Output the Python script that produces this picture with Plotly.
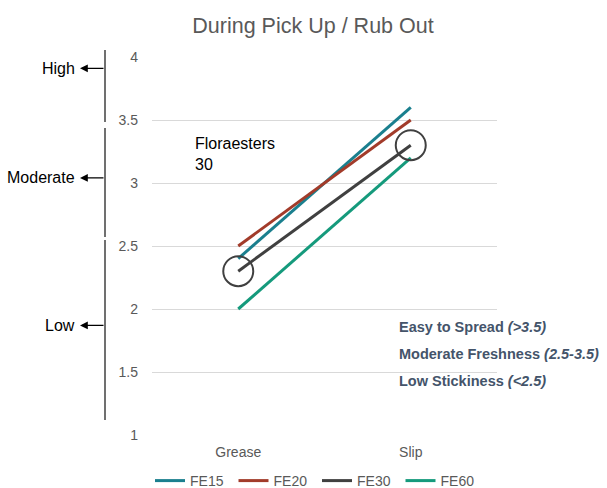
import plotly.graph_objects as go

# ---- data ----
categories = ["Grease", "Slip"]
fe15 = [2.4, 3.6]
fe20 = [2.5, 3.5]
fe30 = [2.3, 3.3]
fe60 = [2.0, 3.2]
series_names = ["FE15", "FE20", "FE30", "FE60"]
series_values = [fe15, fe20, fe30, fe60]
series_colors = ["#1A7F8E", "#A23B2A", "#404040", "#159A7C"]
y_ticks = [1, 1.5, 2, 2.5, 3, 3.5, 4]
y_tick_text = ["1", "1.5", "2", "2.5", "3", "3.5", "4"]
level_labels = ["High", "Moderate", "Low"]
level_values = [3.91, 3.04, 1.87]

W, H = 607, 488
L, R, T, B = 152, 110, 57, 53
pw, ph = W - L - R, H - T - B


def px_x(x):
    return (x - L) / pw


def px_y(y):
    return (H - B - y) / ph


fig = go.Figure()
for name, vals, col in zip(series_names, series_values, series_colors):
    fig.add_trace(go.Scatter(x=categories, y=vals, mode="lines", name=name,
                             line=dict(color=col, width=3)))

# highlight circles on FE30
fig.add_trace(go.Scatter(x=categories, y=fe30, mode="markers", showlegend=False,
                         hoverinfo="skip",
                         marker=dict(symbol="circle-open", size=30,
                                     line=dict(color="#404040", width=2),
                                     color="#404040")))

shapes = []
# left bracket lines
for y0, y1 in [(50, 122), (128, 237), (240, 420)]:
    shapes.append(dict(type="line", xref="paper", yref="paper",
                       x0=px_x(105), x1=px_x(105), y0=px_y(y0), y1=px_y(y1),
                       line=dict(color="#404040", width=1.5)))

annotations = []
for lab, v in zip(level_labels, level_values):
    annotations.append(dict(xref="paper", yref="y", x=px_x(80), y=v, ax=25, ay=0,
                            text="", showarrow=True, arrowhead=2, arrowsize=1.2,
                            arrowwidth=1.3, arrowcolor="#000000"))
    annotations.append(dict(xref="paper", yref="y", x=px_x(77), y=v, text=lab,
                            showarrow=False, xanchor="right", yanchor="middle",
                            font=dict(size=16, color="#000000",
                                      family="Liberation Sans, Arial")))

annotations.append(dict(xref="paper", yref="paper", x=px_x(193), y=px_y(133),
                        text="Floraesters<br>30", showarrow=False, align="left",
                        xanchor="left", yanchor="top",
                        font=dict(size=16, color="#000000",
                                  family="Liberation Sans, Arial")))

right_lines = [("Easy to Spread", "(>3.5)", 327),
               ("Moderate Freshness", "(2.5-3.5)", 354),
               ("Low Stickiness", "(<2.5)", 381)]
for bold, ital, yy in right_lines:
    annotations.append(dict(xref="paper", yref="paper", x=px_x(397), y=px_y(yy),
                            text=f"<b>{bold} <i>{ital}</i></b>", showarrow=False,
                            xanchor="left", yanchor="middle",
                            font=dict(size=14.5, color="#44546A",
                                      family="Liberation Sans, Arial")))

fig.update_layout(
    width=W, height=H,
    margin=dict(l=L, r=R, t=T, b=B, autoexpand=False),
    paper_bgcolor="white", plot_bgcolor="white",
    font=dict(family="Liberation Sans, Arial", color="#595959", size=14),
    title=dict(text="During Pick Up / Rub Out", x=px_x(313), xref="paper",
               xanchor="center", y=1 - 25 / H, yanchor="middle",
               font=dict(size=21.5, color="#595959")),
    xaxis=dict(type="category", range=[-0.5, 1.5], showgrid=False,
               showline=False, zeroline=False, ticks="",
               ticklabelstandoff=7,
               tickfont=dict(size=14, color="#595959")),
    yaxis=dict(range=[1, 4], tickvals=y_ticks, ticktext=y_tick_text,
               showgrid=True, gridcolor="#D9D9D9", gridwidth=1,
               zeroline=False, showline=False, ticks="",
               ticklabelstandoff=13,
               tickfont=dict(size=14, color="#595959")),
    legend=dict(orientation="h", x=px_x(150), xref="paper", xanchor="left",
                y=px_y(481), yanchor="middle", entrywidth=38.5,
                entrywidthmode="pixels",
                font=dict(size=14, color="#595959")),
    shapes=shapes,
    annotations=annotations,
)

fig.write_html("out.html", config={"displayModeBar": False},
               post_script="document.body.style.margin='0';")
